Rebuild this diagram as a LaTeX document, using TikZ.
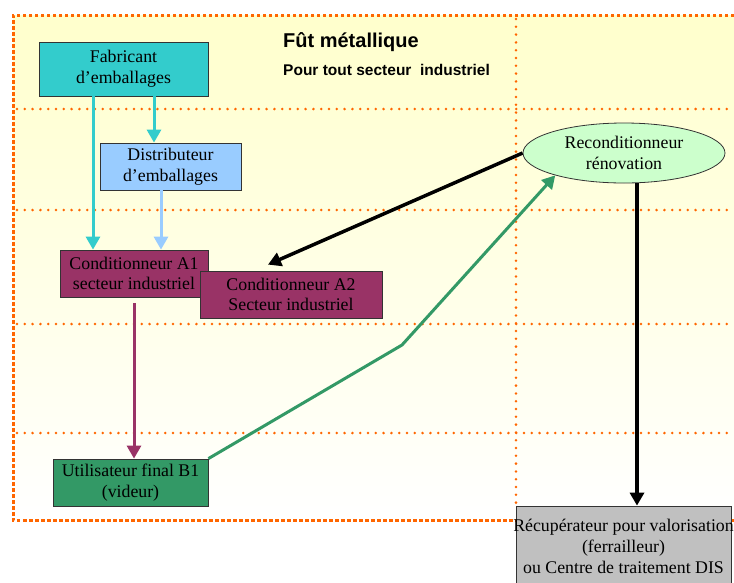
\documentclass[tikz,border=0pt]{standalone}
\usepackage{fontspec}
\setmainfont{Liberation Serif}
\newfontfamily\arialf{Liberation Sans}
\usetikzlibrary{arrows.meta,shapes.geometric}
\definecolor{borderor}{HTML}{FF6600}
\definecolor{bgtop}{HTML}{FFFFCC}
\definecolor{cyanf}{HTML}{33CCCC}
\definecolor{lblue}{HTML}{99CCFF}
\definecolor{purp}{HTML}{993366}
\definecolor{greenf}{HTML}{339966}
\definecolor{mint}{HTML}{CCFFCC}
\definecolor{greyf}{HTML}{C0C0C0}
\tikzset{
  boxnode/.style={draw=black!80, line width=0.8pt, rectangle, inner sep=0pt, align=center,
    font=\fontsize{17.8}{20.8}\selectfont},
  gridline/.style={draw=borderor, line width=2.8pt, line cap=round, dash pattern=on 0pt off 7.8pt},
  border/.style={draw=borderor, line width=3pt, dash pattern=on 3.5pt off 2.5pt},
  flow/.style={line width=3pt, -{Triangle[length=13pt,width=14pt]}},
}
\begin{document}
\begin{tikzpicture}[x=1pt,y=-1pt]
\useasboundingbox (0,0) rectangle (734,582);
\shade[top color=bgtop, bottom color=white] (13,15) rectangle (740,520);
% grid
\draw[gridline] (17,109) -- (734,109);
\draw[gridline] (17,210) -- (734,210);
\draw[gridline] (17,324) -- (734,324);
\draw[gridline] (17,433) -- (734,433);
\draw[gridline] (516,19) -- (516,507);
\draw[border] (740,15) -- (13,15) -- (13,520) -- (740,520);
% title
\node[anchor=base west, inner sep=0pt, font=\arialf\bfseries\fontsize{20}{22}\selectfont] (title) at (283,47) {Fût métallique};
\node[anchor=base west, inner sep=0pt, font=\arialf\bfseries\fontsize{15.5}{17}\selectfont] (subtitle) at (283,75) {Pour tout secteur \ industriel};
% nodes
\node[boxnode, fill=cyanf, minimum width=169pt, minimum height=54pt] (fab) at (123.5,69) {Fabricant\\d’emballages};
\node[boxnode, fill=lblue, minimum width=141pt, minimum height=47pt] (dist) at (170.5,166.5) {Distributeur\\d’emballages};
\node[boxnode, fill=purp, minimum width=148pt, minimum height=47pt] (a1) at (134,273.5) {Conditionneur A1\\secteur industriel};
\node[boxnode, fill=purp, minimum width=182pt, minimum height=47pt] (a2) at (291,294.5) {Conditionneur A2\\Secteur industriel};
\node[boxnode, fill=greenf, minimum width=155pt, minimum height=47pt] (ut) at (130.5,482.5) {Utilisateur final B1\\(videur)};
\node[boxnode, ellipse, fill=mint, minimum width=202pt, minimum height=60pt] (rec) at (624,153) {Reconditionneur\\rénovation};
\node[boxnode, fill=greyf, minimum width=215pt, minimum height=84pt] (recup) at (623.5,548) {};
\node[align=center, inner sep=0pt, font=\fontsize{17.8}{21}\selectfont] (recuptext) at ([yshift=2pt]recup.center) {Récupérateur pour valorisation\\(ferrailleur)\\ou Centre de traitement DIS};
% connectors
\coordinate (c1) at ([xshift=-30.5pt]fab.south);
\coordinate (c2) at ([xshift=30.5pt]fab.south);
\coordinate (c3) at ([xshift=-9.5pt]dist.south);
\draw[flow, cyanf] (c1) -- (c1 |- a1.north);
\draw[flow, cyanf] (c2) -- (c2 |- dist.north);
\draw[flow, lblue] (c3) -- (c3 |- a1.north);
\coordinate (c4) at ([yshift=-6pt]a1.south);
\draw[flow, purp] (c4) -- (c4 |- ut.north);
\coordinate (c5) at ([xshift=-23pt,yshift=6pt]a2.north);
\draw[flow, black, line width=3.5pt] (rec.west) -- (c5);
\coordinate (c6) at ([xshift=13pt]rec.south);
\draw[flow, black, line width=4pt] (c6) -- (c6 |- recup.north);
\coordinate (bend) at (402,345);
\draw[flow, greenf] (ut.north east) -- (bend) -- (rec.198.5);
\end{tikzpicture}
\end{document}
